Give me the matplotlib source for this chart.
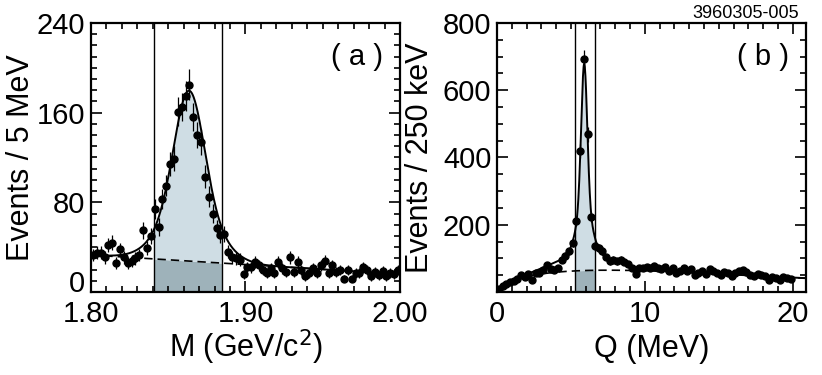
import numpy as np
import matplotlib.pyplot as plt
from matplotlib.ticker import MultipleLocator

plt.rcParams['font.family'] = ['Liberation Sans', 'DejaVu Sans']

# ---- panel (a): M distribution, points every 2.5 MeV from 1.80
m_start = 1.80125
m_step = 0.0025
m_counts = [33, 35, 35, 31, 42, 44, 26, 38, 31, 26, 28, 30, 33, 55, 39, 50, 74, 58,
            83, 95, 114, 119, 161, 165, 175, 185, 156, 140, 134, 103, 85, 70, 57, 51,
            52, 36, 31, 30, 29, 16,
            22, 22, 27, 24, 20, 17, 21, 17, 27, 21, 18, 31, 18, 27, 20, 14, 17, 21, 17, 24,
            28, 17, 24, 18, 20, 12, 20, 12, 17, 17, 22, 20, 14, 18, 15, 19, 14, 17, 16, 20]
# fit: linear background + two gaussians
m_bkg = (33.0, -85.0)          # value at 1.80, slope per GeV
m_mean = 1.8635
m_gaus = [(102.0, 0.0095), (50.0, 0.017)]
m_window = (1.841, 1.885)

# ---- panel (b): Q distribution, points every 250 keV from 0
q_start = 0.125
q_step = 0.25
q_counts = [8, 18, 24, 30, 34, 38, 52, 44, 55, 36, 58, 56, 66, 80, 68, 64, 72, 96, 108, 121, 146,
            210, 420, 692, 469, 223,
            136, 131, 122, 104, 91, 96, 91, 96, 90, 84, 72, 55, 72, 70, 74, 72, 77, 72, 67, 74,
            62, 70, 57, 62, 72, 62, 67, 52, 57, 62, 55, 68, 62, 57, 52, 60, 57, 47, 57, 62,
            65, 60, 52, 47, 55, 50, 47, 37, 45, 42, 37, 45, 42, 40]
q_bkg = (35.3, 0.6, 0.08)      # A * Q^a * exp(-c Q)
q_mean = 5.9
q_gaus = [(419.0, 0.2), (148.0, 0.5), (48.0, 2.0)]
q_window = (5.3, 6.65)

light = '#cfdde4'
dark = '#9eb2ba'


def m_background(x):
    return m_bkg[0] + m_bkg[1] * (x - 1.80)


def m_total(x):
    s = sum(a * np.exp(-0.5 * ((x - m_mean) / w) ** 2) for a, w in m_gaus)
    return m_background(x) + s


def q_background(x):
    return q_bkg[0] * np.power(x, q_bkg[1]) * np.exp(-q_bkg[2] * x)


def q_total(x):
    s = sum(a * np.exp(-0.5 * ((x - q_mean) / w) ** 2) for a, w in q_gaus)
    return q_background(x) + s


def draw_panel(ax, x, y, xlim, ylim, bkg, total, window, tag):
    xs = np.linspace(window[0], window[1], 300)
    ax.fill_between(xs, 0, bkg(xs), color=dark, lw=0)
    ax.fill_between(xs, bkg(xs), total(xs), color=light, lw=0)
    for w in window:
        ax.axvline(w, color='black', lw=1.0)
    xf = np.linspace(xlim[0], xlim[1], 1000)
    ax.plot(xf, bkg(xf), color='black', lw=1.2, ls=(0, (5, 3)))
    ax.plot(xf, total(xf), color='black', lw=1.4)
    ax.errorbar(x, y, yerr=np.sqrt(y), fmt='o', color='black', ms=5.0,
                elinewidth=0.9, capsize=0)
    ax.set_xlim(xlim)
    ax.set_ylim(ylim)
    ax.tick_params(which='both', direction='in', top=True, right=True,
                   labelsize=21, width=1.2)
    ax.tick_params(which='major', length=8)
    ax.tick_params(which='minor', length=4.5)
    ax.tick_params(axis='x', pad=6)
    ax.tick_params(axis='y', pad=4)
    for s in ax.spines.values():
        s.set_linewidth(1.6)
    ax.text(0.945, 0.875, tag, transform=ax.transAxes, ha='right', va='center',
            fontsize=21)


fig = plt.figure(figsize=(8.22, 3.75), dpi=100)
ax1 = fig.add_axes([0.1107, 0.2213, 0.3759, 0.7174])
ax2 = fig.add_axes([0.6046, 0.2213, 0.3759, 0.7174])

mx = m_start + m_step * np.arange(len(m_counts))
draw_panel(ax1, mx, np.array(m_counts, float), (1.80, 2.00), (0, 240),
           m_background, m_total, m_window, '( a )')
ax1.set_xticks([1.80, 1.90, 2.00], ['1.80', '1.90', '2.00'])
ax1.xaxis.set_minor_locator(MultipleLocator(0.01))
ax1.set_yticks([0, 80, 160, 240])
ax1.yaxis.set_minor_locator(MultipleLocator(10))
# the "0" sits on the corner, clear of the "1.80" below it
ax1.yaxis.get_major_ticks()[0].label1.set_verticalalignment('baseline')
ax1.set_xlabel('M (GeV/c$^{2}$)', fontsize=22, va='center')
ax1.set_ylabel('Events / 5 MeV', fontsize=22, va='center')
ax1.xaxis.set_label_coords(0.5, -0.205)
ax1.yaxis.set_label_coords(-0.227, 0.5)

qx = q_start + q_step * np.arange(len(q_counts))
draw_panel(ax2, qx, np.array(q_counts, float), (0, 20.9), (0, 800),
           q_background, q_total, q_window, '( b )')
ax2.set_xticks([0, 10, 20])
ax2.xaxis.set_minor_locator(MultipleLocator(1))
ax2.set_yticks([0, 200, 400, 600, 800], ['', '200', '400', '600', '800'])
ax2.yaxis.set_minor_locator(MultipleLocator(50))
ax2.set_xlabel('Q (MeV)', fontsize=22, va='center')
ax2.set_ylabel('Events / 250 keV', fontsize=22, va='center')
ax2.xaxis.set_label_coords(0.5, -0.212)
ax2.yaxis.set_label_coords(-0.249, 0.5)

fig.text(799 / 822, 1 - 13.5 / 375, '3960305-005', ha='right', va='center',
         fontsize=13)

fig.savefig('out.png', dpi=100)
